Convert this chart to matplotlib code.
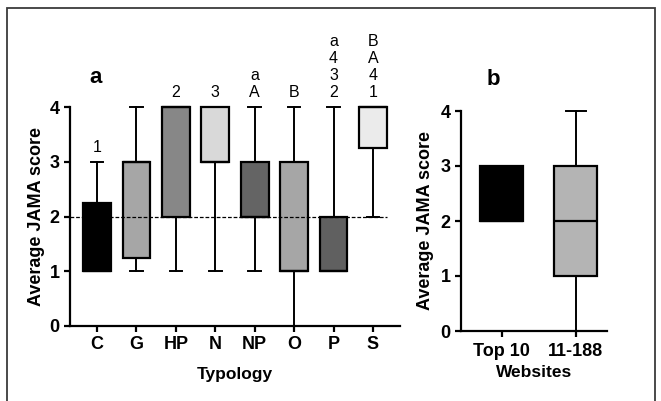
import matplotlib
matplotlib.use("Agg")
import matplotlib.pyplot as plt
from matplotlib.patches import Rectangle

plt.rcParams['font.family'] = ['Liberation Sans', 'DejaVu Sans']

# Panel a - typology
types = ['C', 'G', 'HP', 'N', 'NP', 'O', 'P', 'S']
whis_lo = [1, 1, 1, 1, 1, 0, 1, 2]
q1 = [1, 1.25, 2, 3, 2, 1, 1, 3.25]
med = [1, 3, 4, 3, 2, 1, 1, 4]
q3 = [2.25, 3, 4, 4, 3, 3, 2, 4]
whis_hi = [3, 4, 4, 4, 4, 4, 4, 4]
fills = ['#000000', '#a6a6a6', '#878787', '#d9d9d9', '#646464', '#a6a6a6', '#606060', '#ebebeb']
letters = ['1', '', '2', '3', 'a\nA', 'B', 'a\n4\n3\n2', 'B\nA\n4\n1']
ref_score = 2

# Panel b - websites
sites = ['Top 10', '11-188']
b_whis_lo = [2, 0]
b_q1 = [2, 1]
b_med = [2, 2]
b_q3 = [3, 3]
b_whis_hi = [3, 4]
b_fills = ['#000000', '#b4b4b4']

fig = plt.figure(figsize=(6.61, 4.01), dpi=100)


def draw_boxes(ax, lo, a, m, b, hi, fill, width, capw):
    stats = [dict(whislo=lo[i], q1=a[i], med=m[i], q3=b[i], whishi=hi[i], fliers=[])
             for i in range(len(lo))]
    bp = ax.bxp(stats, widths=width, patch_artist=True, showfliers=False,
                capwidths=capw,
                boxprops=dict(linewidth=1.6, edgecolor='black'),
                medianprops=dict(color='black', linewidth=1.6),
                whiskerprops=dict(color='black', linewidth=1.4),
                capprops=dict(color='black', linewidth=1.4))
    for p, c in zip(bp['boxes'], fill):
        p.set_facecolor(c)
    for art in bp['boxes'] + bp['medians'] + bp['whiskers'] + bp['caps']:
        art.set_clip_on(False)
    return bp


def style(ax, ylabpad):
    for s in ['top', 'right']:
        ax.spines[s].set_visible(False)
    for s in ['left', 'bottom']:
        ax.spines[s].set_linewidth(1.6)
    ax.tick_params(axis='both', direction='out', length=4, width=1.6,
                   labelsize=13)
    for lab in ax.get_xticklabels() + ax.get_yticklabels():
        lab.set_fontweight('bold')
    ax.set_ylim(0, 4)
    ax.set_yticks([0, 1, 2, 3, 4])
    ax.set_ylabel('Average JAMA score', fontsize=13, fontweight='bold', labelpad=ylabpad)


# panel a
ax1 = fig.add_axes([70 / 661, 1 - 326 / 401, 330 / 661, 219 / 401])
pos = list(range(1, len(types) + 1))
ax1.hlines(ref_score, 0.314, 8.36, colors='black', linestyles=(0, (3, 1.5)),
           linewidth=0.9, zorder=3)
draw_boxes(ax1, whis_lo, q1, med, q3, whis_hi, fills, 0.7, 0.32)
ax1.set_xlim(0.314, 8.686)
ax1.set_xticks(pos)
ax1.set_xticklabels(types)
style(ax1, 3)
ax1.set_xlabel('Typology', fontsize=12.5, fontweight='bold', labelpad=10)
for x, t, h in zip(pos, letters, whis_hi):
    if t:
        ax1.annotate(t, (x, h), xytext=(0, 7), textcoords='offset points',
                     ha='center', va='baseline', fontsize=11.5, linespacing=1.17,
                     annotation_clip=False)
ax1.annotate('a', (0.95, 4), xytext=(0, 17), textcoords='offset points',
             ha='center', va='baseline', fontsize=16, fontweight='bold',
             annotation_clip=False)

# panel b
ax2 = fig.add_axes([461 / 661, 1 - 331 / 401, 146 / 661, 220 / 401])
draw_boxes(ax2, b_whis_lo, b_q1, b_med, b_q3, b_whis_hi, b_fills, 0.58, 0.26)
ax2.set_xlim(0.45, 2.42)
ax2.set_xticks([1, 2])
ax2.set_xticklabels(sites)
style(ax2, 5)
ax2.tick_params(axis='x', pad=5)
ax2.set_xlabel('Websites', fontsize=12.5, fontweight='bold', labelpad=3)
ax2.annotate('b', (0.88, 4), xytext=(0, 19), textcoords='offset points',
             ha='center', va='baseline', fontsize=16, fontweight='bold',
             annotation_clip=False)

# outer frame
fig.patches.append(Rectangle((7 / 661, -0.05), 648 / 661, 1.05 - 8 / 401,
                             transform=fig.transFigure, fill=False,
                             edgecolor='#3a3a3a', linewidth=1.3))

fig.savefig('out.png', dpi=100)
